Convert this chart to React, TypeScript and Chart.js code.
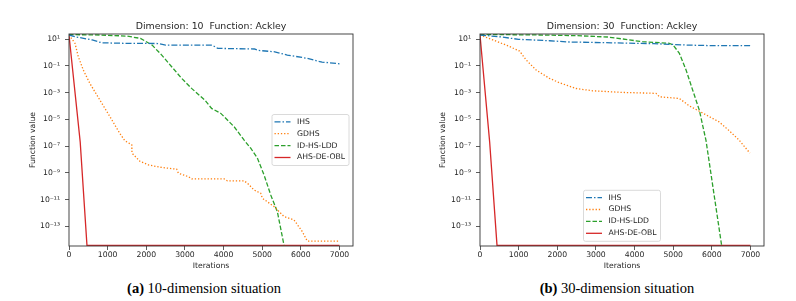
import React, { useEffect, useRef } from "react";
import { Chart, registerables } from "chart.js";

Chart.register(...registerables);

// ---------- data ----------
const SERIES_NAMES = ["IHS", "GDHS", "ID-HS-LDD", "AHS-DE-OBL"];
const SERIES_COLORS = ["#1f77b4", "#ff7f0e", "#2ca02c", "#d62728"];

const X_TICKS = [0, 1000, 2000, 3000, 4000, 5000, 6000, 7000];
const Y_TICKS = [1e1, 1e-1, 1e-3, 1e-5, 1e-7, 1e-9, 1e-11, 1e-13];
const Y_TICK_LABELS = ["10¹", "10⁻¹", "10⁻³", "10⁻⁵", "10⁻⁷", "10⁻⁹", "10⁻¹¹", "10⁻¹³"];
const X_MIN = 0;
const X_MAX = 7350;
const Y_MIN = 3.39e-15;
const Y_MAX = 23.7;

// Dimension 10
const D10_IHS_ITER = [0, 160, 600, 850, 1400, 2300, 2500, 3700, 3850, 4800, 4900, 5300, 5650, 6170, 6450, 6550, 7000];
const D10_IHS_VAL = [20, 14.8, 8.5, 5.2, 4.8, 4.6, 3.5, 3.5, 2.0, 1.8, 1.4, 1.12, 0.63, 0.36, 0.22, 0.19, 0.14];

const D10_GDHS_ITER = [0, 155, 240, 370, 540, 800, 1058, 1316, 1445, 1625, 1630, 1840, 2056, 2400, 2786, 2830, 3088, 3173, 3690, 4017, 4100, 4533, 4618, 4790, 4961, 5005, 5307, 5565, 5823, 6037, 6166, 7000];
const D10_GDHS_VAL = [20, 4.8, 0.48, 0.048, 4.8e-3, 2.7e-4, 1.6e-5, 8.7e-7, 2.5e-7, 1.23e-7, 2.95e-8, 7.1e-9, 3.9e-9, 2.5e-9, 1.86e-9, 9.3e-10, 5.2e-10, 3.5e-10, 3.5e-10, 3.5e-10, 2.5e-10, 2.5e-10, 1.66e-10, 5.2e-11, 2.95e-11, 1.26e-11, 3.0e-12, 5.4e-13, 3.0e-13, 4.1e-14, 7.9e-15, 7.9e-15];

const D10_LDD_ITER = [0, 800, 1490, 1850, 2150, 2400, 2657, 2915, 3173, 3517, 3690, 3930, 4275, 4533, 4703, 4875, 5048, 5220, 5392, 5478, 5565];
const D10_LDD_VAL = [21.4, 20, 16.6, 11.2, 3.5, 0.63, 0.085, 0.0115, 2.04e-3, 2.7e-4, 6.5e-5, 2.75e-5, 2.75e-6, 2.75e-7, 6.9e-8, 1.26e-8, 6.9e-10, 2.24e-11, 1.26e-12, 7.1e-14, 3.8e-15];

const D10_OBL_ITER = [0, 290, 465, 7000];
const D10_OBL_VAL = [20, 2.0e-7, 3.8e-15, 3.8e-15];

// Dimension 30
const D30_IHS_ITER = [0, 500, 1000, 1800, 2300, 3400, 4500, 5400, 6000, 7000];
const D30_IHS_VAL = [20, 14.8, 9.5, 7.4, 6.0, 5.2, 4.5, 3.5, 3.2, 3.2];

const D30_GDHS_ITER = [0, 335, 680, 1024, 1195, 1453, 1797, 2056, 2485, 2915, 3690, 4555, 4644, 5160, 5418, 5676, 6192, 6450, 6708, 6985];
const D30_GDHS_VAL = [20, 8.5, 3.5, 1.26, 0.27, 0.048, 0.0115, 5.4e-3, 2.0e-3, 1.35e-3, 1.02e-3, 8.7e-4, 4.8e-4, 3.6e-4, 1.0e-4, 4.0e-5, 6.3e-6, 1.4e-6, 2.75e-7, 2.95e-8];

const D30_LDD_ITER = [0, 1500, 2500, 3300, 3700, 4200, 4900, 5000, 5160, 5333, 5505, 5676, 5850, 6253];
const D30_LDD_VAL = [22, 20, 17.8, 14.1, 10, 6.3, 4.8, 3.5, 0.85, 0.048, 1.5e-3, 4.9e-5, 2.5e-7, 3.8e-15];

const D30_OBL_ITER = [0, 250, 440, 7000];
const D30_OBL_VAL = [20, 2.0e-7, 3.8e-15, 3.8e-15];

const DASHES = [[6, 2, 1.5, 2], [1.3, 1.9], [4.5, 2], []];

// ---------- helpers ----------
const TEXT_COLOR = "#262626";
const FONT = "'DejaVu Sans', sans-serif";

function pts(iter: number[], vals: number[]) {
  return iter.map((x, i) => ({ x, y: vals[i] }));
}

const mplPlugin = {
  id: "mplDecor",
  afterDraw(chart: any, _args: any, opts: any) {
    const { ctx, chartArea: a } = chart;
    ctx.save();
    // spines
    ctx.setLineDash([]);
    ctx.strokeStyle = "#333";
    ctx.lineWidth = 0.9;
    ctx.strokeRect(a.left, a.top, a.right - a.left, a.bottom - a.top);
    // title
    ctx.fillStyle = TEXT_COLOR;
    ctx.font = `9.4px ${FONT}`;
    ctx.textAlign = "center";
    ctx.textBaseline = "middle";
    ctx.fillText(opts.title, (a.left + a.right) / 2, a.top - 7.3);
    // legend
    const boxW = 77;
    const boxH = 51;
    let bx: number;
    let by: number;
    if (opts.loc === "center right") {
      bx = a.right - 4 - boxW;
      by = (a.top + a.bottom) / 2 - boxH / 2;
    } else {
      bx = (a.left + a.right) / 2 - boxW / 2;
      by = a.bottom - 4.7 - boxH;
    }
    const r = 2;
    ctx.beginPath();
    ctx.moveTo(bx + r, by);
    ctx.lineTo(bx + boxW - r, by);
    ctx.quadraticCurveTo(bx + boxW, by, bx + boxW, by + r);
    ctx.lineTo(bx + boxW, by + boxH - r);
    ctx.quadraticCurveTo(bx + boxW, by + boxH, bx + boxW - r, by + boxH);
    ctx.lineTo(bx + r, by + boxH);
    ctx.quadraticCurveTo(bx, by + boxH, bx, by + boxH - r);
    ctx.lineTo(bx, by + r);
    ctx.quadraticCurveTo(bx, by, bx + r, by);
    ctx.closePath();
    ctx.fillStyle = "rgba(255,255,255,0.85)";
    ctx.fill();
    ctx.strokeStyle = "#d0d0d0";
    ctx.lineWidth = 0.8;
    ctx.stroke();
    ctx.font = `7.7px ${FONT}`;
    ctx.textAlign = "left";
    ctx.textBaseline = "middle";
    chart.data.datasets.forEach((ds: any, i: number) => {
      const y = by + 7.3 + i * 11.9;
      ctx.beginPath();
      ctx.setLineDash(ds.borderDash || []);
      ctx.strokeStyle = ds.borderColor;
      ctx.lineWidth = ds.borderWidth;
      ctx.moveTo(bx + 2.5, y);
      ctx.lineTo(bx + 18.5, y);
      ctx.stroke();
      ctx.setLineDash([]);
      ctx.fillStyle = TEXT_COLOR;
      ctx.fillText(ds.label, bx + 25, y);
    });
    ctx.restore();
  },
};

type PanelProps = {
  title: string;
  loc: string;
  padLeft: number;
  padRight: number;
  yWidth: number;
  width: number;
  series: { iter: number[]; val: number[] }[];
};

function Panel(props: PanelProps) {
  const ref = useRef<HTMLCanvasElement | null>(null);
  useEffect(() => {
    if (!ref.current) return;
    const chart = new Chart(ref.current, {
      type: "line",
      data: {
        datasets: props.series.map((s, i) => ({
          label: SERIES_NAMES[i],
          data: pts(s.iter, s.val),
          borderColor: SERIES_COLORS[i],
          backgroundColor: SERIES_COLORS[i],
          borderWidth: 1.3,
          borderDash: DASHES[i],
          pointRadius: 0,
          fill: false,
          tension: 0,
        })),
      },
      options: {
        animation: false,
        responsive: false,
        devicePixelRatio: 1,
        events: [],
        layout: { padding: { left: props.padLeft, right: props.padRight, top: 34, bottom: 0 } },
        plugins: {
          legend: { display: false },
          tooltip: { enabled: false },
          title: { display: false },
          mplDecor: { title: props.title, loc: props.loc },
        } as any,
        scales: {
          x: {
            type: "linear",
            min: X_MIN,
            max: X_MAX,
            bounds: "data",
            border: { display: false },
            grid: { drawOnChartArea: false, drawTicks: true, tickLength: 4, color: "#333", lineWidth: 0.8 },
            ticks: {
              autoSkip: false,
              maxRotation: 0,
              padding: 0,
              color: TEXT_COLOR,
              font: { family: FONT, size: 7.7 },
              callback: (v: any) => String(v),
            },
            title: {
              display: true,
              text: "Iterations",
              color: TEXT_COLOR,
              font: { family: FONT, size: 7.7 },
              padding: { top: 0, bottom: 4.5 },
            },
            afterBuildTicks: (scale: any) => {
              scale.ticks = X_TICKS.map((v) => ({ value: v }));
            },
            afterFit: (scale: any) => {
              scale.height = 29;
            },
          },
          y: {
            type: "logarithmic",
            min: Y_MIN,
            max: Y_MAX,
            bounds: "data",
            border: { display: false },
            grid: { drawOnChartArea: false, drawTicks: true, tickLength: 4, color: "#333", lineWidth: 0.8 },
            ticks: {
              autoSkip: false,
              padding: 5,
              color: TEXT_COLOR,
              font: { family: FONT, size: 7.7 },
              callback: (_v: any, i: number) => Y_TICK_LABELS[i],
            },
            title: {
              display: true,
              text: "Function value",
              color: TEXT_COLOR,
              font: { family: FONT, size: 7.7 },
              padding: { top: 28.5, bottom: 0 },
            },
            afterBuildTicks: (scale: any) => {
              scale.ticks = Y_TICKS.map((v) => ({ value: v }));
            },
            afterFit: (scale: any) => {
              scale.width = props.yWidth;
            },
          },
        } as any,
      },
      plugins: [mplPlugin],
    } as any);
    return () => chart.destroy();
  }, []);
  return <canvas ref={ref} width={props.width} height={275} style={{ display: "block" }} />;
}

const captionStyle: React.CSSProperties = {
  position: "absolute",
  top: 280,
  width: 400,
  textAlign: "center",
  fontFamily: "'Liberation Serif', 'Times New Roman', serif",
  fontSize: 14.5,
  lineHeight: "17px",
  color: "#000",
  whiteSpace: "nowrap",
};

export default function App() {
  return (
    <div style={{ position: "absolute", left: 0, top: 0, width: 796, height: 301, background: "#fff", overflow: "hidden" }}>
      <div style={{ position: "absolute", left: 0, top: 0 }}>
        <Panel
          title="Dimension: 10  Function: Ackley"
          loc="center right"
          padLeft={0}
          padRight={47}
          yWidth={69}
          width={400}
          series={[
            { iter: D10_IHS_ITER, val: D10_IHS_VAL },
            { iter: D10_GDHS_ITER, val: D10_GDHS_VAL },
            { iter: D10_LDD_ITER, val: D10_LDD_VAL },
            { iter: D10_OBL_ITER, val: D10_OBL_VAL },
          ]}
        />
      </div>
      <div style={{ position: "absolute", left: 400, top: 0 }}>
        <Panel
          title="Dimension: 30  Function: Ackley"
          loc="lower center"
          padLeft={10}
          padRight={32}
          yWidth={70}
          width={396}
          series={[
            { iter: D30_IHS_ITER, val: D30_IHS_VAL },
            { iter: D30_GDHS_ITER, val: D30_GDHS_VAL },
            { iter: D30_LDD_ITER, val: D30_LDD_VAL },
            { iter: D30_OBL_ITER, val: D30_OBL_VAL },
          ]}
        />
      </div>
      <div style={{ ...captionStyle, left: 4 }}>
        <b>(a)</b> 10-dimension situation
      </div>
      <div style={{ ...captionStyle, left: 417 }}>
        <b>(b)</b> 30-dimension situation
      </div>
    </div>
  );
}
